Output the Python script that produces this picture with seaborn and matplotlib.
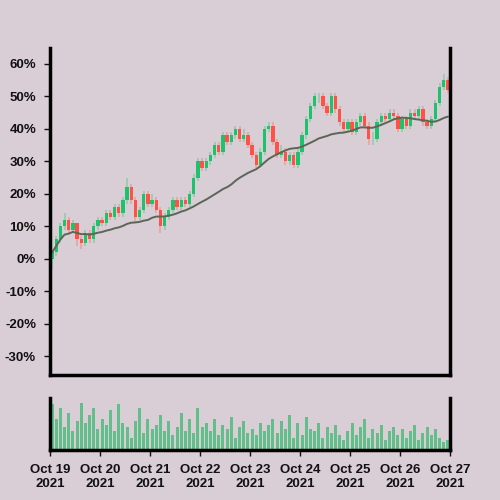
import numpy as np
import pandas as pd
import seaborn as sns
import matplotlib.pyplot as plt
from matplotlib.ticker import FuncFormatter

# closes in percent, 12 candles per day from Oct 19 to Oct 27
closes = [2, 6, 10, 12, 9, 11, 6, 5, 8, 6, 10, 12,
          11, 14, 13, 16, 14, 18, 22, 18, 13, 15, 20, 17,
          18, 15, 10, 13, 15, 18, 16, 18, 17, 20, 25, 30,
          28, 30, 32, 35, 33, 38, 36, 38, 40, 37, 38, 35,
          32, 29, 33, 40, 41, 36, 32, 33, 30, 32, 29, 33,
          38, 43, 47, 50, 50, 47, 45, 50, 46, 42, 40, 42,
          39, 42, 44, 41, 37, 37, 42, 44, 43, 45, 44, 40,
          43, 41, 45, 44, 46, 42, 41, 43, 48, 53, 55, 52]
highs = [3, 7, 11, 14, 13, 12, 11, 7, 9, 9, 11, 13,
         13, 15, 15, 17, 17, 19, 25, 23, 19, 16, 21, 21,
         20, 19, 16, 14, 16, 19, 19, 19, 19, 21, 26, 31,
         31, 31, 33, 36, 36, 39, 39, 39, 41, 41, 40, 39,
         36, 33, 34, 41, 42, 42, 37, 35, 34, 33, 33, 34,
         39, 44, 48, 51, 51, 51, 48, 51, 51, 47, 43, 43,
         43, 43, 45, 45, 42, 39, 43, 45, 45, 46, 46, 45,
         44, 44, 46, 46, 47, 47, 43, 44, 49, 54, 57, 56]
lows = [-3, 1, 5, 9, 8, 8, 4, 3, 4, 5, 5, 9,
        10, 10, 12, 12, 13, 13, 17, 17, 11, 12, 14, 16,
        16, 14, 8, 9, 12, 14, 15, 15, 16, 16, 19, 24,
        27, 27, 29, 31, 32, 32, 35, 35, 37, 36, 36, 34,
        31, 28, 28, 32, 39, 35, 31, 31, 29, 29, 28, 28,
        32, 37, 42, 46, 48, 46, 44, 44, 45, 41, 39, 39,
        38, 38, 41, 40, 35, 35, 36, 41, 42, 42, 43, 39,
        39, 40, 40, 43, 43, 41, 40, 40, 42, 47, 52, 51]
volumes = [44, 30, 40, 22, 36, 18, 28, 45, 26, 34, 40, 20,
           30, 24, 38, 18, 44, 26, 22, 12, 28, 40, 16, 30,
           20, 24, 34, 18, 28, 14, 22, 36, 18, 30, 16, 40,
           22, 26, 18, 30, 14, 24, 20, 32, 12, 22, 28, 16,
           20, 14, 26, 18, 24, 30, 16, 28, 20, 34, 12, 26,
           14, 32, 20, 18, 26, 12, 22, 16, 24, 14, 10, 18,
           26, 14, 22, 30, 12, 20, 16, 24, 10, 18, 22, 14,
           20, 12, 18, 24, 10, 16, 22, 14, 20, 12, 8, 10]
day_labels = ['Oct 19\n2021', 'Oct 20\n2021', 'Oct 21\n2021', 'Oct 22\n2021',
              'Oct 23\n2021', 'Oct 24\n2021', 'Oct 25\n2021', 'Oct 26\n2021',
              'Oct 27\n2021']

bg = '#d9cdd6'
green = '#1ec26a'
red = '#ff5247'

df = pd.DataFrame({'close': np.array(closes) / 100,
                   'high': np.array(highs) / 100,
                   'low': np.array(lows) / 100,
                   'volume': volumes})
df['open'] = df['close'].shift(1).fillna(0.0)
df['x'] = (np.arange(len(df)) + 0.5) / 12
df['ma'] = df['close'].rolling(24, min_periods=1).mean()
up = df['close'] >= df['open']

sns.set_theme(style='ticks')
plt.rcParams['font.family'] = ['Liberation Sans', 'DejaVu Sans']
plt.rcParams['font.weight'] = 'bold'

fig = plt.figure(figsize=(5, 5), dpi=100, facecolor=bg)
ax = fig.add_axes([0.1, 0.25, 0.8, 0.654])
axv = fig.add_axes([0.1, 0.1, 0.8, 0.104])
for a in (ax, axv):
    a.set_facecolor(bg)
    for s in ('left', 'right', 'bottom'):
        a.spines[s].set_linewidth(2.5)
        a.spines[s].set_color('black')
    a.spines['top'].set_visible(False)
    a.set_xlim(0, 8)

colors = np.where(up, green, red)
ax.vlines(df['x'], df['low'], df['high'], colors=colors, alpha=0.35, linewidth=1.2)
ax.bar(df['x'], (df['close'] - df['open']).abs(), bottom=df[['open', 'close']].min(axis=1),
       width=0.065, color=colors, linewidth=0)
sns.lineplot(data=df, x='x', y='ma', ax=ax, color='#5b6656', linewidth=1.4)

ax.set_ylim(-0.357, 0.649)
ax.set_yticks([-0.3, -0.2, -0.1, 0, 0.1, 0.2, 0.3, 0.4, 0.5, 0.6])
ax.yaxis.set_major_formatter(FuncFormatter(lambda v, p: f'{v * 100:.0f}%'))
ax.set_xticks([])
ax.set_xlabel('')
ax.set_ylabel('')
ax.tick_params(axis='y', length=4, width=1, labelsize=9.5, colors='#111111', pad=6)

axv.bar(df['x'], df['volume'], width=0.06, color='#4fbd7c', alpha=0.85, linewidth=0)
axv.set_ylim(0, 50)
axv.set_yticks([])
axv.set_xticks(range(9))
axv.set_xticklabels(day_labels)
axv.tick_params(axis='x', length=4, width=1, labelsize=9.5, colors='#111111', pad=6)

fig.savefig('out.png', dpi=100, facecolor=bg)
